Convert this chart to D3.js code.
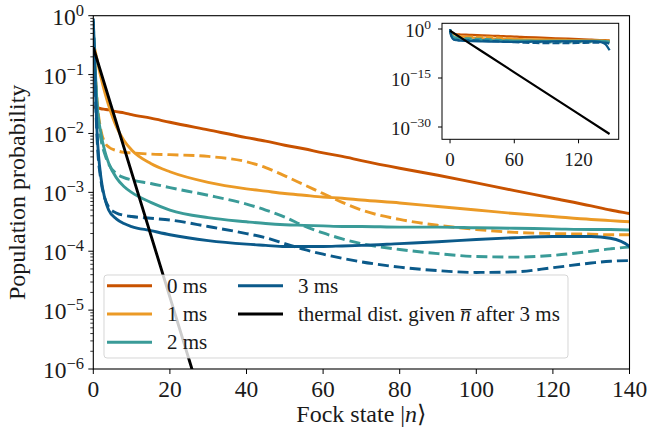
<!DOCTYPE html>
<html><head><meta charset="utf-8">
<script src="https://cdn.jsdelivr.net/npm/d3@7"></script>
<style>
body{margin:0;background:#fff}
</style>
</head><body>
<svg id="c" width="648" height="433" font-family="'Liberation Serif', 'Times New Roman', Times, 'DejaVu Serif', serif"></svg>
<script>
// Fock-state grid (n) shared by the simulated curves
const nGrid = [0,1,2,3,4,6,8,10,15,20,30,40,45,50,55,60,65,70,80,90,100,110,120,130,135,140,145,149];
// log10 of population probability
const ms0Solid   = [-1.55,-1.56,-1.58,-1.59,-1.60,-1.63,-1.65,-1.68,-1.74,-1.81,-1.94,-2.07,-2.13,-2.20,-2.26,-2.33,-2.39,-2.46,-2.59,-2.71,-2.84,-2.97,-3.10,-3.23,-3.30,-3.36,-3.42,-3.47];
const ms1Solid   = [-0.45,-0.75,-1.05,-1.30,-1.52,-1.88,-2.12,-2.28,-2.51,-2.65,-2.83,-2.94,-2.98,-3.02,-3.05,-3.08,-3.10,-3.13,-3.18,-3.24,-3.30,-3.36,-3.41,-3.46,-3.48,-3.50,-3.52,-3.55];
const ms1Dashed  = [-0.30,-1.45,-1.95,-2.15,-2.23,-2.29,-2.32,-2.33,-2.35,-2.36,-2.39,-2.48,-2.58,-2.72,-2.87,-3.02,-3.17,-3.30,-3.46,-3.56,-3.63,-3.68,-3.70,-3.71,-3.72,-3.72,-3.72,-3.73];
const ms2Solid   = [-0.15,-1.50,-2.00,-2.30,-2.50,-2.75,-2.90,-3.00,-3.17,-3.30,-3.43,-3.50,-3.53,-3.55,-3.56,-3.57,-3.58,-3.58,-3.59,-3.59,-3.60,-3.61,-3.62,-3.63,-3.63,-3.64,-3.70,-3.85];
const ms2Dashed  = [-0.10,-1.60,-2.10,-2.35,-2.52,-2.68,-2.75,-2.79,-2.85,-2.92,-3.05,-3.20,-3.30,-3.42,-3.57,-3.69,-3.79,-3.87,-3.97,-4.04,-4.09,-4.10,-4.07,-4.00,-3.96,-3.93,-3.92,-3.95];
const ms3Solid   = [-0.05,-2.00,-2.75,-3.10,-3.30,-3.45,-3.53,-3.58,-3.65,-3.72,-3.82,-3.88,-3.90,-3.92,-3.92,-3.92,-3.91,-3.90,-3.87,-3.84,-3.80,-3.77,-3.75,-3.75,-3.78,-3.92,-4.60,-6.50];
const ms3Dashed  = [-0.10,-2.10,-2.80,-3.10,-3.25,-3.35,-3.39,-3.41,-3.44,-3.47,-3.58,-3.70,-3.77,-3.87,-3.97,-4.05,-4.12,-4.18,-4.27,-4.33,-4.36,-4.35,-4.28,-4.20,-4.17,-4.16,-4.20,-4.50];
// thermal distribution for n-bar after 3 ms
const thermalN   = [0,10,20,30,60,90,120,149];
const thermalLog = [-0.54,-2.66,-4.78,-6.90,-13.26,-19.62,-25.98,-32.13];

const seriesNames  = ["0 ms","1 ms","2 ms","3 ms"];
const seriesColors = ["#c85200","#eb9a26","#3a9b98","#0b5a8a"];
const solidData  = [ms0Solid, ms1Solid, ms2Solid, ms3Solid];
const dashedData = [null, ms1Dashed, ms2Dashed, ms3Dashed];
const thermalLabel = "thermal dist. given";

const xTicks = [0,20,40,60,80,100,120,140];
const yTickExp = [0,-1,-2,-3,-4,-5,-6];
const insetXTicks = [0,60,120];
const insetYTickExp = [0,-15,-30];

const FONT = "'Liberation Serif', 'Times New Roman', Times, 'DejaVu Serif', serif";
const TXT = "#1a1a1a";
const svg = d3.select("#c");
const M = {l:93.3, r:629.5, t:15.7, b:369};
const x = d3.scaleLinear().domain([0,140]).range([M.l,M.r]);
const y = d3.scaleLog().domain([1,1e-6]).range([M.t,M.b]);

function txt(g){ return g.append("text").attr("font-family",FONT).attr("fill",TXT); }

const defs = svg.append("defs");
defs.append("clipPath").attr("id","clipMain").append("rect")
  .attr("x",M.l).attr("y",M.t).attr("width",M.r-M.l).attr("height",M.b-M.t);

const main = svg.append("g").attr("clip-path","url(#clipMain)");
function mkLine(xs, ys, sx, sy, curve){
  return d3.line().x((d,i)=>sx(xs[i])).y(d=>sy(Math.pow(10,d))).curve(curve)(ys);
}
function drawSeries(g, sx, sy, lw, dash){
  for(let k=0;k<4;k++){
    g.append("path").attr("d",mkLine(nGrid,solidData[k],sx,sy,d3.curveMonotoneX))
      .attr("fill","none").attr("stroke",seriesColors[k]).attr("stroke-width",lw).attr("stroke-linejoin","round");
    if(dashedData[k]) g.append("path").attr("d",mkLine(nGrid,dashedData[k],sx,sy,d3.curveMonotoneX))
      .attr("fill","none").attr("stroke",seriesColors[k]).attr("stroke-width",lw).attr("stroke-dasharray",dash);
  }
  g.append("path").attr("d",mkLine(thermalN,thermalLog,sx,sy,d3.curveLinear))
    .attr("fill","none").attr("stroke","#000").attr("stroke-width",lw);
}
drawSeries(main, x, y, 2.9, "11,5");

// axes frame
svg.append("rect").attr("x",M.l).attr("y",M.t).attr("width",M.r-M.l).attr("height",M.b-M.t)
  .attr("fill","none").attr("stroke","#000").attr("stroke-width",1.1);

// x ticks
const fsTick = 23.5, fsSup = 16.5, fsLeg = 21, fsLab = 24, fsIn = 19, fsInSup = 13.5;
xTicks.forEach(v=>{
  svg.append("line").attr("x1",x(v)).attr("x2",x(v)).attr("y1",M.b).attr("y2",M.b+5).attr("stroke","#000");
  txt(svg).attr("x",x(v)).attr("y",396.5).attr("text-anchor","middle").attr("font-size",fsTick).text(v);
});
// y ticks (log)
yTickExp.forEach(e=>{
  const py = y(Math.pow(10,e));
  svg.append("line").attr("x1",M.l-5).attr("x2",M.l).attr("y1",py).attr("y2",py).attr("stroke","#000");
  const t = txt(svg).attr("x",84).attr("y",py+9).attr("text-anchor","end").attr("font-size",fsTick);
  t.append("tspan").text("10");
  t.append("tspan").attr("dy",-9).attr("font-size",fsSup).text(e===0?"0":"\u2212"+(-e));
});
for(let e=-6;e<0;e++){
  for(let k=2;k<=9;k++){
    const py = y(k*Math.pow(10,e));
    svg.append("line").attr("x1",M.l-3).attr("x2",M.l).attr("y1",py).attr("y2",py).attr("stroke","#000").attr("stroke-width",0.8);
  }
}
// axis labels
txt(svg).attr("transform",`translate(25,${(M.t+M.b)/2}) rotate(-90)`).attr("text-anchor","middle")
  .attr("font-size",fsLab).text("Population probability");
const xl = txt(svg).attr("x",(M.l+M.r)/2).attr("y",422).attr("text-anchor","middle").attr("font-size",fsLab);
xl.append("tspan").text("Fock state |");
xl.append("tspan").attr("font-style","italic").text("n");
xl.append("tspan").text("\u27E9");

// legend
const lg = svg.append("g");
lg.append("rect").attr("x",104).attr("y",275).attr("width",464).attr("height",83).attr("rx",3)
  .attr("fill","#fff").attr("fill-opacity",0.8).attr("stroke","#cccccc").attr("stroke-opacity",0.8);
const legItems = [
  {c:seriesColors[0], label:seriesNames[0], col:0, row:0},
  {c:seriesColors[1], label:seriesNames[1], col:0, row:1},
  {c:seriesColors[2], label:seriesNames[2], col:0, row:2},
  {c:seriesColors[3], label:seriesNames[3], col:1, row:0},
  {c:"#000", label:null, col:1, row:1}
];
const colX = [107,238], rowY = [285.7,314,342.3];
legItems.forEach(it=>{
  const x0 = colX[it.col], yy = rowY[it.row];
  lg.append("line").attr("x1",x0).attr("x2",x0+45).attr("y1",yy).attr("y2",yy).attr("stroke",it.c).attr("stroke-width",2.9);
  const t = txt(lg).attr("x",x0+60).attr("y",yy+7).attr("font-size",fsLeg);
  if(it.label) t.text(it.label);
  else {
    t.append("tspan").text(thermalLabel+" ");
    t.append("tspan").attr("font-style","italic").text("n\u0305");
    t.append("tspan").text(" after 3 ms");
  }
});

// inset
const I = {l:442, r:618.7, t:23.3, b:139.3};
const xi = d3.scaleLinear().domain([-7.5,157.5]).range([I.l,I.r]);
const yi = d3.scaleLog().domain([Math.pow(10,1.745),Math.pow(10,-33.76)]).range([I.t,I.b]);
defs.append("clipPath").attr("id","clipIn").append("rect")
  .attr("x",I.l).attr("y",I.t).attr("width",I.r-I.l).attr("height",I.b-I.t);
svg.append("rect").attr("x",I.l).attr("y",I.t).attr("width",I.r-I.l).attr("height",I.b-I.t).attr("fill","#fff");
const ins = svg.append("g").attr("clip-path","url(#clipIn)");
drawSeries(ins, xi, yi, 2.2, "7,3");
svg.append("rect").attr("x",I.l).attr("y",I.t).attr("width",I.r-I.l).attr("height",I.b-I.t)
  .attr("fill","none").attr("stroke","#000").attr("stroke-width",1);
insetXTicks.forEach(v=>{
  svg.append("line").attr("x1",xi(v)).attr("x2",xi(v)).attr("y1",I.b).attr("y2",I.b+4).attr("stroke","#000");
  txt(svg).attr("x",xi(v)).attr("y",165.5).attr("text-anchor","middle").attr("font-size",fsIn).text(v);
});
insetYTickExp.forEach(e=>{
  const py = yi(Math.pow(10,e));
  svg.append("line").attr("x1",I.l-4).attr("x2",I.l).attr("y1",py).attr("y2",py).attr("stroke","#000");
  const t = txt(svg).attr("x",431).attr("y",py+7.5).attr("text-anchor","end").attr("font-size",fsIn);
  t.append("tspan").text("10");
  t.append("tspan").attr("dy",-8).attr("font-size",fsInSup).text(e===0?"0":"\u2212"+(-e));
});
</script>
</body></html>
